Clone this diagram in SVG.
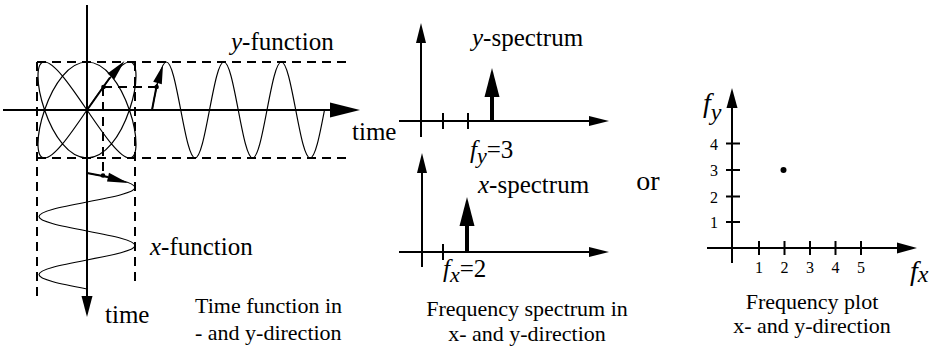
<svg xmlns="http://www.w3.org/2000/svg" width="937" height="347" viewBox="0 0 937 347">
<defs>
<style type="text/css">
  .ax{stroke:#000;stroke-width:2;fill:none}
  .thin{stroke:#000;stroke-width:1.2;fill:none}
  .dash{stroke:#000;stroke-width:2;fill:none;stroke-dasharray:9 6}
  .head{fill:#000;stroke:none}
  .spike{stroke:#000;stroke-width:4;fill:none}
  text{fill:#000;font-family:'Liberation Serif','Times New Roman',serif}
  .lbl{font-size:25px}
  .cap{font-size:22px}
  .num{font-size:16px}
  .it{font-style:italic}
</style>
</defs>
<rect width="937" height="347" fill="#fff"/>
<g id="time-plot">
  <g id="guides">
    <line class="dash" x1="37" y1="62" x2="350" y2="62"/>
    <line class="dash" x1="37" y1="158" x2="350" y2="158"/>
    <line class="dash" x1="37" y1="62" x2="37" y2="302"/>
    <line class="dash" x1="135" y1="62" x2="135" y2="285"/>
    <line class="dash" x1="103" y1="87" x2="156" y2="87"/>
    <line class="dash" x1="103" y1="87" x2="103" y2="172"/>
  </g>
  <g id="axes">
    <line class="ax" x1="3" y1="110" x2="332" y2="110"/>
    <polygon class="head" points="360,110 330,102.5 330,117.5"/>
    <line class="ax" x1="87" y1="5" x2="87" y2="298"/>
    <polygon class="head" points="87,317 81.5,296 92.5,296"/>
  </g>
  <g id="lissajous">
    <path class="thin" d="M87,110 C95.55,97.43 104.09,84.95 111.5,76.06 C118.91,67.17 125.15,62 129.43,62 C133.71,62 136,67.17 136,76.06 C136,84.95 133.71,97.43 129.43,110 C125.15,122.57 118.91,135.05 111.5,143.94 C104.09,152.83 95.55,158 87,158 C78.45,158 69.91,152.83 62.5,143.94 C55.09,135.05 48.85,122.57 44.57,110 C40.29,97.43 38,84.95 38,76.06 C38,67.17 40.29,62 44.57,62 C48.85,62 55.09,67.17 62.5,76.06 C69.91,84.95 78.45,97.43 87,110 C95.55,122.57 104.09,135.05 111.5,143.94 C118.91,152.83 125.15,158 129.43,158 C133.71,158 136,152.83 136,143.94 C136,135.05 133.71,122.57 129.43,110 C125.15,97.43 118.91,84.95 111.5,76.06 C104.09,67.17 95.55,62 87,62 C78.45,62 69.91,67.17 62.5,76.06 C55.09,84.95 48.85,97.43 44.57,110 C40.29,122.57 38,135.05 38,143.94 C38,152.83 40.29,158 44.57,158 C48.85,158 55.09,152.83 62.5,143.94 C69.91,135.05 78.45,122.57 87,110 Z"/>
    <line class="ax" x1="87" y1="110" x2="110" y2="77.5"/>
    <polygon class="head" points="124.5,61 114.3,79.5 107.5,73.5"/>
    <circle cx="103.5" cy="87" r="2.3"/>
  </g>
  <g id="y-function">
    <path class="thin" d="M152,110 C157.05,83.5 161.32,62 166.375,62 C171.425,62 175.695,83.5 180.75,110 C185.8,136.5 190.07,158 195.125,158 C200.175,158 204.445,136.5 209.5,110 C214.55,83.5 218.82,62 223.875,62 C228.925,62 233.195,83.5 238.25,110 C243.3,136.5 247.57,158 252.625,158 C257.675,158 261.945,136.5 267,110 C272.05,83.5 276.32,62 281.375,62 C286.425,62 290.695,83.5 295.75,110 C300.8,136.5 305.07,158 310.125,158 C315.175,158 319.445,136.5 324.5,110"/>
    <line class="ax" x1="152" y1="110" x2="157" y2="84"/>
    <polygon class="head" points="163,65 161.8,84.3 153.2,81.7"/>
    <circle cx="156.6" cy="87" r="2.3"/>
    <text class="lbl" font-family="Liberation Serif" x="231" y="50"><tspan class="it">y</tspan>-function</text>
    <text class="lbl" font-family="Liberation Serif" x="352" y="140">time</text>
  </g>
  <g id="x-function">
    <path class="thin" d="M87,173 C113.5,178.095 135,182.405 135,187.5 C135,192.595 113.5,196.905 87,202 C60.5,207.095 39,211.405 39,216.5 C39,221.595 60.5,225.905 87,231 C113.5,236.095 135,240.405 135,245.5 C135,250.595 113.5,254.905 87,260 C60.5,265.095 39,269.405 39,274.5 C39,279.595 60.5,283.905 87,289"/>
    <line class="ax" x1="87" y1="173" x2="108" y2="177"/>
    <polygon class="head" points="128,183 107,181.6 109,172.8"/>
    <circle cx="103" cy="175.5" r="2.3"/>
    <text class="lbl" font-family="Liberation Serif" x="150" y="255"><tspan class="it">x</tspan>-function</text>
    <text class="lbl" font-family="Liberation Serif" x="105" y="323">time</text>
  </g>
  <text class="cap" font-family="Liberation Serif" x="195" y="313">Time function in</text>
  <text class="cap" font-family="Liberation Serif" x="195" y="340">- and y-direction</text>
</g>

<g id="y-spectrum">
  <line class="ax" x1="421" y1="137" x2="421" y2="42"/>
  <polygon class="head" points="421,23 416,43 426,43"/>
  <line class="ax" x1="399" y1="121" x2="590" y2="121"/>
  <polygon class="head" points="609,121 589,116 589,126"/>
  <line class="ax" x1="443" y1="113" x2="443" y2="129"/>
  <line class="ax" x1="468" y1="113" x2="468" y2="129"/>
  <line class="spike" x1="492" y1="121" x2="492" y2="96"/>
  <polygon class="head" points="492,68 484.5,97 499.5,97"/>
  <text class="lbl" font-family="Liberation Serif" x="472" y="46"><tspan class="it">y</tspan>-spectrum</text>
  <text class="lbl" font-family="Liberation Serif" x="470" y="158"><tspan class="it">f</tspan><tspan class="it" font-size="22" dy="5">y</tspan><tspan dy="-5">=3</tspan></text>
</g>

<g id="x-spectrum">
  <line class="ax" x1="422" y1="267" x2="422" y2="172"/>
  <polygon class="head" points="422,153 417,173 427,173"/>
  <line class="ax" x1="399" y1="252" x2="590" y2="252"/>
  <polygon class="head" points="609,252 589,247 589,257"/>
  <line class="ax" x1="443" y1="244" x2="443" y2="260"/>
  <line class="spike" x1="467" y1="252" x2="467" y2="225"/>
  <polygon class="head" points="467,197 459.5,226 474.5,226"/>
  <text class="lbl" font-family="Liberation Serif" x="478" y="193"><tspan class="it">x</tspan>-spectrum</text>
  <text class="lbl" font-family="Liberation Serif" x="443" y="277"><tspan class="it">f</tspan><tspan class="it" font-size="22" dy="5">x</tspan><tspan dy="-5">=2</tspan></text>
  <text class="cap" font-family="Liberation Serif" x="527" y="316" text-anchor="middle">Frequency spectrum in</text>
  <text class="cap" font-family="Liberation Serif" x="527" y="341" text-anchor="middle">x- and y-direction</text>
</g>

<g id="or">
  <text font-family="Liberation Serif" font-size="28" x="648" y="190" text-anchor="middle">or</text>
</g>

<g id="freq-plot">
  <line class="ax" x1="732" y1="263" x2="732" y2="107"/>
  <polygon class="head" points="732,88 726.5,108 737.5,108"/>
  <line class="ax" x1="707" y1="248" x2="899" y2="248"/>
  <polygon class="head" points="917,248 897,242.5 897,253.5"/>
  <g id="x-ticks">
    <line class="ax" x1="759" y1="241" x2="759" y2="255"/>
    <line class="ax" x1="784.5" y1="241" x2="784.5" y2="255"/>
    <line class="ax" x1="810" y1="241" x2="810" y2="255"/>
    <line class="ax" x1="835.5" y1="241" x2="835.5" y2="255"/>
    <line class="ax" x1="861" y1="241" x2="861" y2="255"/>
    <text class="num" font-family="Liberation Serif" x="759" y="273" text-anchor="middle">1</text>
    <text class="num" font-family="Liberation Serif" x="784.5" y="273" text-anchor="middle">2</text>
    <text class="num" font-family="Liberation Serif" x="810" y="273" text-anchor="middle">3</text>
    <text class="num" font-family="Liberation Serif" x="835.5" y="273" text-anchor="middle">4</text>
    <text class="num" font-family="Liberation Serif" x="861" y="273" text-anchor="middle">5</text>
  </g>
  <g id="y-ticks">
    <line class="ax" x1="726" y1="222" x2="740" y2="222"/>
    <line class="ax" x1="726" y1="196.5" x2="740" y2="196.5"/>
    <line class="ax" x1="726" y1="170" x2="740" y2="170"/>
    <line class="ax" x1="726" y1="143.5" x2="740" y2="143.5"/>
    <text class="num" font-family="Liberation Serif" x="718" y="228" text-anchor="end">1</text>
    <text class="num" font-family="Liberation Serif" x="718" y="202.5" text-anchor="end">2</text>
    <text class="num" font-family="Liberation Serif" x="718" y="176" text-anchor="end">3</text>
    <text class="num" font-family="Liberation Serif" x="718" y="149.5" text-anchor="end">4</text>
  </g>
  <circle cx="783.5" cy="170" r="3"/>
  <text font-family="Liberation Serif" font-size="28" x="703" y="112"><tspan class="it">f</tspan><tspan class="it" font-size="24" dy="8">y</tspan></text>
  <text font-family="Liberation Serif" font-size="28" x="910" y="280"><tspan class="it">f</tspan><tspan class="it" font-size="24" dy="2">x</tspan></text>
  <text class="cap" font-family="Liberation Serif" x="812" y="309" text-anchor="middle">Frequency plot</text>
  <text class="cap" font-family="Liberation Serif" x="812" y="333" text-anchor="middle">x- and y-direction</text>
</g>
</svg>
